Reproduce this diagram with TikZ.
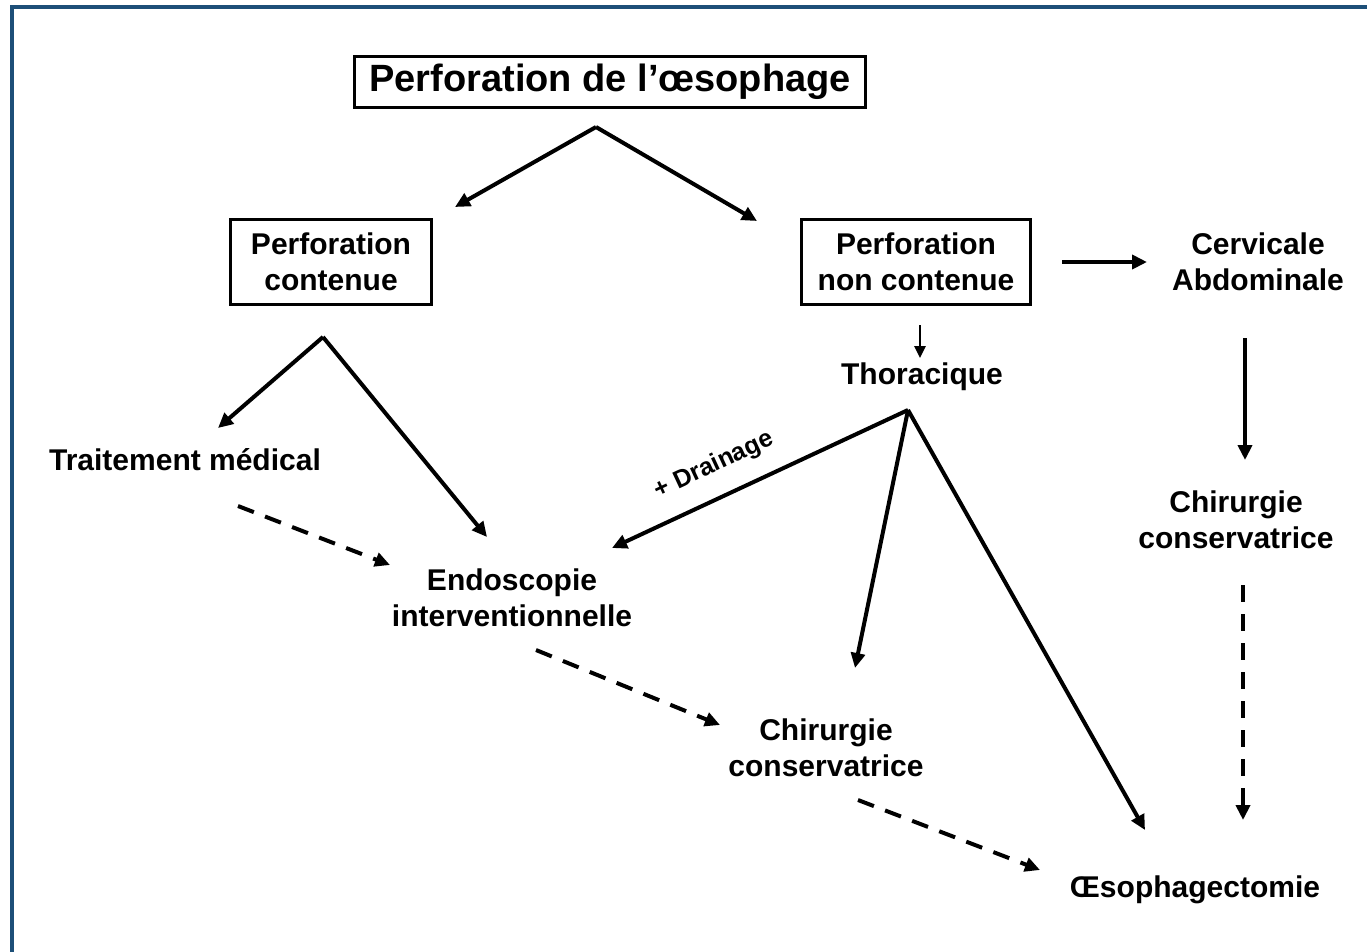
\documentclass[tikz,border=0pt]{standalone}
\usepackage{fontspec}
\setmainfont{Liberation Sans}
\usetikzlibrary{arrows.meta}
\definecolor{framecol}{HTML}{1D4F78}
\begin{document}
\begin{tikzpicture}[x=1pt,y=-1pt,
  lbl/.style={font=\fontsize{30}{36}\selectfont\bfseries, align=center, inner sep=0pt},
  boxed/.style={lbl, draw, line width=2.2pt},
  arr/.style={line width=4pt, -{Triangle[length=15pt,width=14pt]}},
  darr/.style={arr, dash pattern=on 17pt off 12pt}
]
\useasboundingbox (0,0) rectangle (1367,951);
\fill[white] (0,0) rectangle (1367,951);
\draw[framecol, line width=4pt] (12,7) rectangle (1380,965);

% nodes
\node[boxed, minimum width=511pt, minimum height=51pt, font=\fontsize{38}{44}\selectfont\bfseries] (top) at (610,82) {Perforation de l’œsophage};
\node[boxed, minimum width=201pt, minimum height=85pt] (cont) at (331,262) {Perforation\\contenue};
\node[boxed, minimum width=229pt, minimum height=85pt] (ncont) at (916,262) {Perforation\\non contenue};
\node[lbl] (cerv) at (1258,262) {Cervicale\\Abdominale};
\node[lbl] (thor) at (922,377) {Thoracique};
\node[lbl] (trait) at (185,460) {Traitement médical};
\node[lbl] (endo) at (512,598) {Endoscopie\\interventionnelle};
\node[lbl] (chir) at (826,748) {Chirurgie\\conservatrice};
\node[lbl] (chirR) at (1236,520) {Chirurgie\\conservatrice};
\node[lbl] (oeso) at (1195,890) {Œsophagectomie};

% coordinates
\coordinate (topA) at (596,127);
\coordinate (contL) at (455,207);
\coordinate (ncontT) at (757,221);
\coordinate (contA) at (323,337);
\coordinate (traitT) at (218,428);
\coordinate (endoT) at (487,537);
\coordinate (ncR) at (1062,262);
\coordinate (cervL) at (1147,262);
\coordinate (ncB) at (920,325);
\coordinate (thorT) at (920,358);
\coordinate (thorA) at (908,410);
\coordinate (endoR) at (612,548);
\coordinate (chirT) at (855,668);
\coordinate (oesoT) at (1145,830);
\coordinate (cervB) at (1245,338);
\coordinate (chirRT) at (1245,460);
\coordinate (chirRB) at (1243,585);
\coordinate (oesoR) at (1243,820);
\coordinate (traitB) at (238,506);
\coordinate (endoL) at (390,565);
\coordinate (endoB) at (536,650);
\coordinate (chirL) at (720,725);
\coordinate (chirB) at (858,800);
\coordinate (oesoL) at (1040,870);

% connectors
\draw[arr] (topA) -- (contL);
\draw[arr] (topA) -- (ncontT);
\draw[arr] (contA) -- (traitT);
\draw[arr] (contA) -- (endoT);
\draw[arr] (ncR) -- (cervL);
\draw[arr, line width=2.6pt, -{Triangle[length=12pt,width=11pt]}] (ncB) -- (thorT);
\draw[arr] (thorA) -- node[sloped, above=18pt, font=\fontsize{25}{28}\selectfont\bfseries, inner sep=0pt, pos=0.61] (drain) {+ Drainage} (endoR);
\draw[arr] (thorA) -- (chirT);
\draw[arr] (thorA) -- (oesoT);
\draw[arr] (cervB) -- (chirRT);
\draw[darr] (chirRB) -- (oesoR);
\draw[darr] (traitB) -- (endoL);
\draw[darr] (endoB) -- (chirL);
\draw[darr] (chirB) -- (oesoL);
\end{tikzpicture}
\end{document}
